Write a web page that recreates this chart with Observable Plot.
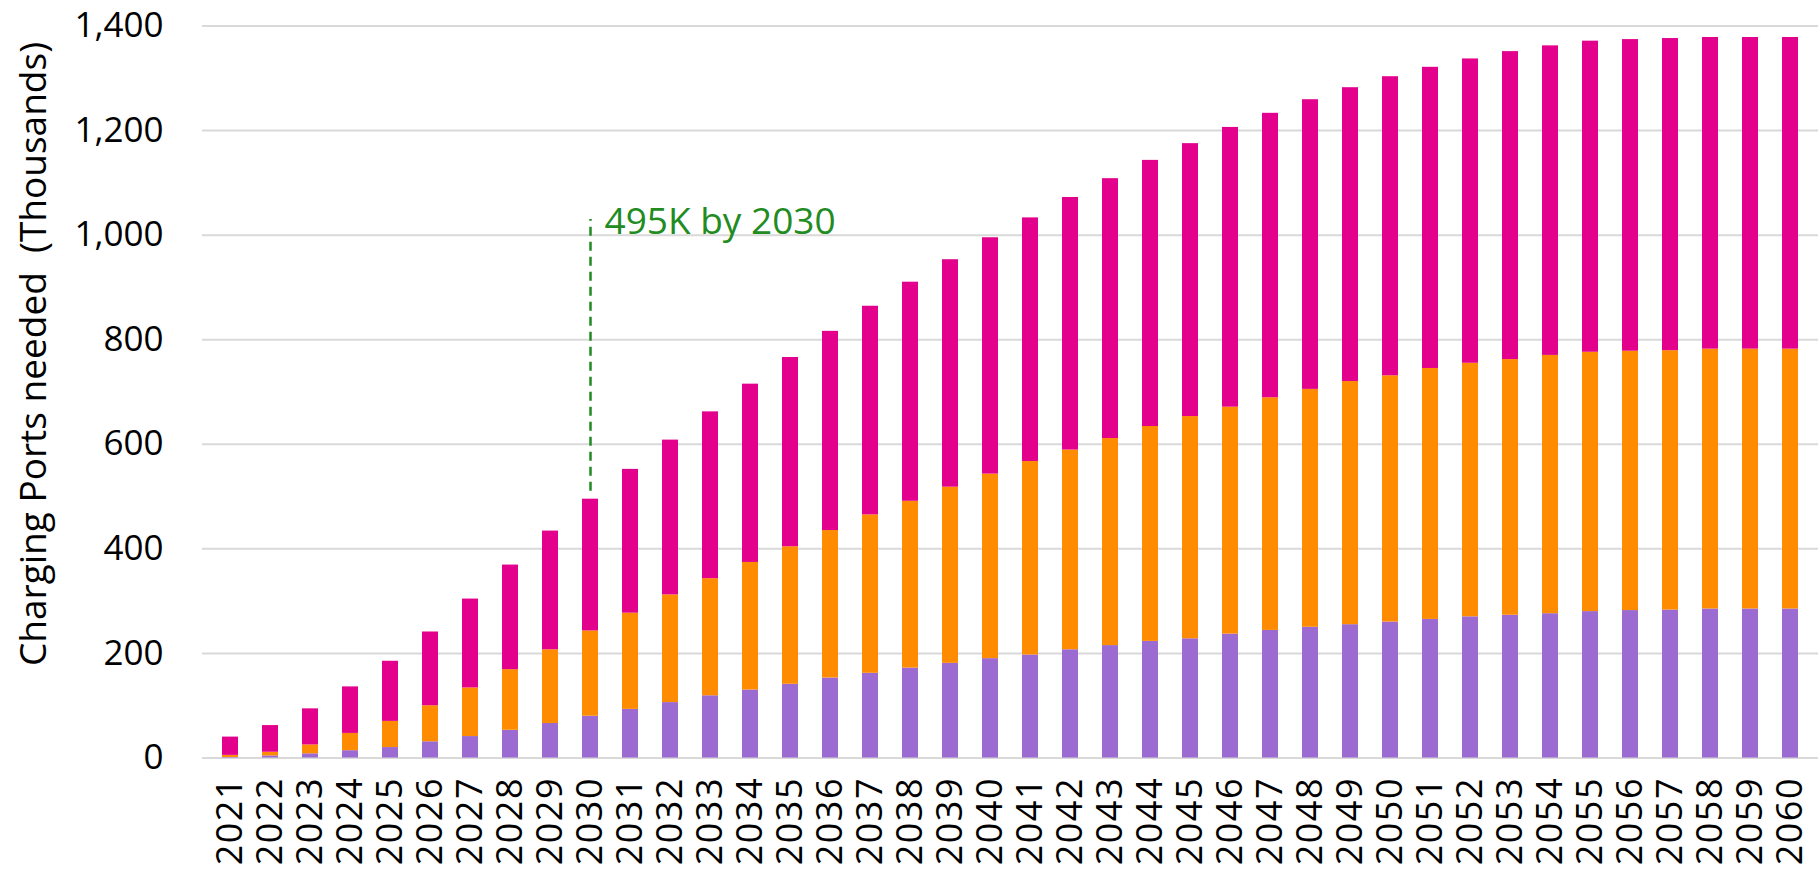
<!DOCTYPE html>
<html>
<head>
<meta charset="utf-8">
<script src="https://cdn.jsdelivr.net/npm/d3@7"></script>
<script src="https://cdn.jsdelivr.net/npm/@observablehq/plot@0.6"></script>
<style>
  html, body { margin: 0; padding: 0; background: #ffffff; }
  #chart svg text { white-space: pre; }
  #chart g[aria-label="x-axis tick label"] text { letter-spacing: 1.5px; }
</style>
</head>
<body>
<div id="chart"></div>
<script>
const years = ["2021","2022","2023","2024","2025","2026","2027","2028","2029","2030",
  "2031","2032","2033","2034","2035","2036","2037","2038","2039","2040",
  "2041","2042","2043","2044","2045","2046","2047","2048","2049","2050",
  "2051","2052","2053","2054","2055","2056","2057","2058","2059","2060"];

// bottom segment (purple)
const purpleVals = [1,4,8,14,20,31,41,53,66,80,
  93,106,119,130,141,153,162,172,181,190,
  197,207,215,223,228,237,244,250,255,260,
  265,270,273,276,280,282,283,285,285,285];
// middle segment (orange)
const orangeVals = [4,7,17,33,50,69,93,116,141,163,
  184,206,224,244,263,282,303,319,337,353,
  370,382,396,411,425,434,445,455,465,471,
  480,485,489,494,496,496,496,497,497,497];
// top segment (magenta)
const magentaVals = [35,51,69,89,115,141,170,200,227,252,
  275,296,319,341,362,381,399,419,435,452,
  466,483,497,509,522,535,544,554,562,572,
  576,582,589,592,595,596,597,596,596,596];

const seriesNames = ["Segment A", "Segment B", "Segment C"];
const seriesColors = ["#9b6bd1", "#ff8c00", "#e3008c"];
const yTicks = [0, 200, 400, 600, 800, 1000, 1200, 1400];
const yLabel = "Charging Ports needed  (Thousands)";

const annotationYear = "2030";
const annotationText = "495K by 2030";
const annotationFrom = 510;
const annotationTo = 1030;
const annotationTextY = 1024;

const green = "#228b22";

const valueArrays = [purpleVals, orangeVals, magentaVals];
const data = [];
seriesNames.forEach((s, i) => {
  years.forEach((yr, j) => data.push({ year: yr, series: s, value: valueArrays[i][j] }));
});
const annotation = [{ year: annotationYear, from: annotationFrom, to: annotationTo, ty: annotationTextY, label: annotationText }];

const chart = Plot.plot({
  width: 1818,
  height: 870,
  marginLeft: 202,
  marginRight: 0,
  marginTop: 25.5,
  marginBottom: 112.5,
  style: { fontFamily: "'Open Sans', sans-serif", fontSize: "35px", background: "#ffffff", color: "#000000" },
  x: { domain: years, paddingInner: 0.59, paddingOuter: 0.295, label: null },
  y: { domain: [0, 1400], label: null },
  color: { domain: seriesNames, range: seriesColors },
  marks: [
    Plot.ruleY(yTicks, { stroke: "#d9d9d9", strokeWidth: 2 }),
    Plot.barY(data, { x: "year", y: "value", fill: "series", order: seriesNames }),
    Plot.ruleX(annotation, { x: "year", y1: "from", y2: "to", stroke: green, strokeWidth: 2.5, strokeDasharray: "9,6" }),
    Plot.text(annotation, { x: "year", y: "ty", text: "label", textAnchor: "start", dx: 14, fill: green, fontSize: 37 }),
    Plot.axisY({ ticks: yTicks, tickSize: 0, tickPadding: 39, tickFormat: d => d.toLocaleString("en-US"), label: null, fontSize: 35 }),
    Plot.axisX({ tickRotate: -90, tickSize: 0, tickPadding: 19, label: null, fontSize: 36 }),
    Plot.text([yLabel], { text: d => d, frameAnchor: "left", textAnchor: "middle", rotate: -90, dx: -168, dy: -38, fontSize: 37, fill: "#000000" })
  ]
});
document.getElementById("chart").appendChild(chart);
</script>
</body>
</html>
